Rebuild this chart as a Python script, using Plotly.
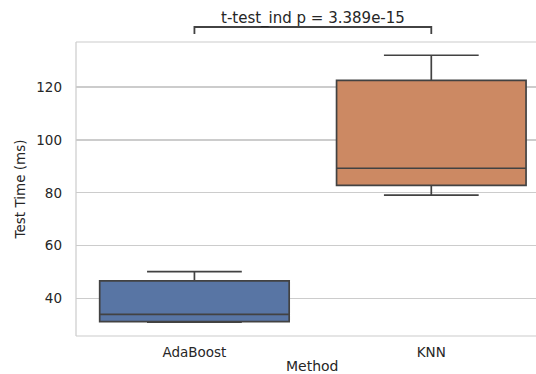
import plotly.graph_objects as go

methods = ["AdaBoost", "KNN"]
q1 = [31.3, 82.8]
median = [34.1, 89.3]
q3 = [46.7, 122.5]
lower_whisker = [31.1, 79.1]
upper_whisker = [50.2, 132.0]
fill_colors = ["#5875A4", "#CC8963"]
p_label = "t-test_ind p = 3.389e-15"
x_title = "Method"
y_title = "Test Time (ms)"

FONT = "DejaVu Sans"
TXT = "#262626"
LINE = "#424242"

fig = go.Figure()
for i, m in enumerate(methods):
    fig.add_trace(go.Box(
        x=[m], q1=[q1[i]], median=[median[i]], q3=[q3[i]],
        lowerfence=[lower_whisker[i]], upperfence=[upper_whisker[i]],
        name=m, fillcolor=fill_colors[i],
        line=dict(color=LINE, width=1.7),
        width=0.8, whiskerwidth=0.5, boxpoints=False,
        hoverinfo="skip", showlegend=False,
    ))

# significance bracket
fig.add_shape(type="path", xref="x", yref="paper",
              path="M 0,1.027 L 0,1.051 L 1,1.051 L 1,1.027",
              line=dict(color=LINE, width=1.8))
fig.add_annotation(x=0.5, y=1.079, xref="x", yref="paper", text=p_label,
                   showarrow=False, yanchor="middle", xanchor="center",
                   font=dict(family=FONT, size=15, color=TXT))

# x-axis title (centred on the full, partly cropped, axes width)
fig.add_annotation(x=0.5, y=-0.102, xref="x", yref="paper", text=x_title,
                   showarrow=False, yanchor="middle", xanchor="center",
                   borderpad=0,
                   font=dict(family=FONT, size=14, color=TXT))

# spines (left, top, bottom)
for p in ["M 0,0 L 0,1", "M 0,1 L 1,1", "M 0,0 L 1,0"]:
    fig.add_shape(type="path", xref="paper", yref="paper", path=p,
                  line=dict(color="#cccccc", width=1.2), layer="below")

fig.update_layout(
    width=536, height=374,
    margin=dict(l=76, r=0, t=42, b=38),
    paper_bgcolor="white", plot_bgcolor="white",
    boxmode="overlay",
    font=dict(family=FONT, size=13.5, color=TXT),
    xaxis=dict(type="category", categoryorder="array", categoryarray=methods,
               range=[-0.5, 1.442], showgrid=False, zeroline=False,
               showline=False, ticks="", ticklabelstandoff=6,
               tickfont=dict(family=FONT, size=13.5, color=TXT)),
    yaxis=dict(range=[25.9, 137.0], tickvals=[40, 60, 80, 100, 120],
               showgrid=True, gridcolor="#cccccc", gridwidth=1.2,
               zeroline=False, showline=False, ticks="", ticklabelstandoff=13,
               title=dict(text=y_title, standoff=7,
                          font=dict(family=FONT, size=13.5, color=TXT)),
               tickfont=dict(family=FONT, size=13.5, color=TXT)),
)

fig.write_html(
    "out.html",
    config={"displayModeBar": False, "staticPlot": True},
    post_script="document.body.style.margin='0';"
                "document.body.style.overflow='hidden';"
                "document.documentElement.style.overflow='hidden';",
)
